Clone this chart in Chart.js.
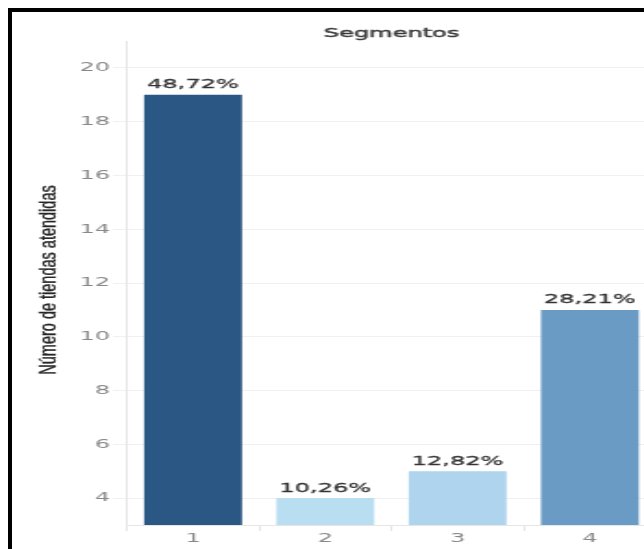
<!DOCTYPE html>
<html>
<head>
<meta charset="utf-8">
<script src="https://cdn.jsdelivr.net/npm/chart.js@4.4.1/dist/chart.umd.min.js"></script>
<style>
html,body{margin:0;padding:0;background:#fff;overflow:hidden;width:644px;height:549px}
#wrap{position:absolute;left:0;top:0;width:360px;height:549px;transform:scaleX(1.85);transform-origin:0 0}
#frame{position:absolute;left:8px;top:8px;width:700px;height:600px;border-left:4px solid #000;border-top:4px solid #000}
</style>
</head>
<body>
<div id="wrap"><canvas id="c" width="360" height="549"></canvas></div>
<div id="frame"></div>
<script>
// ─── DATA ────────────────────────────────────────────────────────────────────
const segments=['1','2','3','4'];
const stores=[19,4,5,11];
const barColors=['#2b5784','#b9ddf1','#aed4ee','#6a9bc4'];
const yTicks=[4,6,8,10,12,14,16,18,20];
const chartTitle='Segmentos';
const yTitle='Número de tiendas atendidas';

const total=stores.reduce((s,v)=>s+v,0);
const pctLabel=v=>(v/total*100).toFixed(2).replace('.',',')+'%';

// fill + hairline stroke so the stretched text keeps some weight
function heavyText(ctx,txt,x,y,w){
  ctx.lineWidth=w;
  ctx.strokeStyle=ctx.fillStyle;
  ctx.fillText(txt,x,y);
  ctx.strokeText(txt,x,y);
}

// ─── TEXT PLUGIN: title, y title, percentages ────────────────────────────────
const textPlugin={
  id:'texts',
  afterDraw(chart){
    const {ctx,chartArea:a}=chart;
    ctx.save();
    ctx.fillStyle='#3a3a3a';
    ctx.font='13px "DejaVu Sans"';
    ctx.textAlign='center';
    ctx.textBaseline='alphabetic';
    heavyText(ctx,chartTitle,(a.left+a.right)/2,37,0.45);

    // bar percentages
    ctx.fillStyle='#333';
    const meta=chart.getDatasetMeta(0);
    meta.data.forEach((bar,i)=>{
      heavyText(ctx,pctLabel(stores[i]),bar.x,bar.y-6.5,0.3);
    });

    // rotated axis title, squeezed across its height
    ctx.translate(26.5,280);
    ctx.rotate(-Math.PI/2);
    ctx.scale(1,0.82);
    ctx.font='14.5px "Liberation Sans"';
    ctx.textBaseline='middle';
    ctx.fillStyle='#262626';
    heavyText(ctx,yTitle,0,0,0.35);
    ctx.restore();
  }
};

const tickFont={family:'DejaVu Sans',size:13};

new Chart(document.getElementById('c'),{
  type:'bar',
  data:{labels:segments,datasets:[{data:stores,backgroundColor:barColors,borderWidth:0,
    categoryPercentage:1,barPercentage:0.74}]},
  options:{
    responsive:false,animation:false,devicePixelRatio:1,
    layout:{padding:{left:0,top:41,right:5.4,bottom:0}},
    plugins:{legend:{display:false},tooltip:{enabled:false},title:{display:false}},
    scales:{
      x:{
        grid:{display:true,drawOnChartArea:false,drawTicks:true,tickLength:6,color:'#e6e6e6',offset:true},
        border:{display:true,color:'#e6e6e6'},
        ticks:{color:'#888',font:tickFont,padding:0},
        afterFit:a=>{a.height=24;}
      },
      y:{
        min:3,max:21,
        afterBuildTicks:a=>{a.ticks=yTicks.map(v=>({value:v}));},
        grid:{color:'#f0f0f0',drawTicks:true,tickLength:7.6,tickColor:'#f0f0f0'},
        border:{display:true,color:'#e6e6e6'},
        ticks:{color:'#888',font:tickFont,padding:1.5},
        afterFit:a=>{a.width=68.6;}
      }
    }
  },
  plugins:[textPlugin]
});
</script>
</body>
</html>
